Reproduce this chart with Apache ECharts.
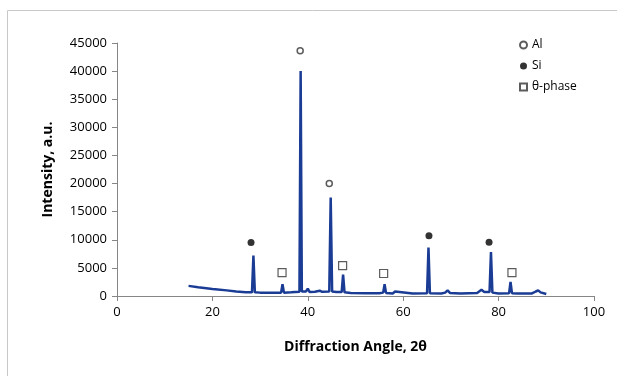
<!DOCTYPE html>
<html>
<head>
<meta charset="utf-8">
<script src="https://cdn.jsdelivr.net/npm/echarts@6/dist/echarts.min.js"></script>
<style>
  html, body { margin: 0; padding: 0; background: #fff; }
  #chart { width: 617px; height: 376px; }
</style>
</head>
<body>
<div id="chart"></div>
<script>
// XRD pattern
const twoTheta = [
  15, 17, 20, 20.6, 20.8, 21.0, 23, 25, 27, 28.3, 28.6, 28.9, 30, 33, 34.4, 34.7, 35.0, 36.5,
  38.25, 38.5, 38.75, 39.6, 40.0, 40.4, 41.5, 42.5, 43.0, 44.5, 44.8, 45.1, 46.0, 47.1, 47.4, 47.7,
  49, 52, 55, 55.8, 56.1, 56.4, 57.8, 58.3, 58.7, 62, 65.0, 65.3, 65.6, 68, 68.8, 69.3, 69.8,
  72, 75.5, 76.4, 77.0, 78.1, 78.4, 78.7, 80, 82.2, 82.5, 82.8, 84, 87, 87.8, 88.3, 88.8, 90
];
const intensity = [
  1800, 1550, 1250, 1200, 1450, 1150, 1000, 800, 650, 650, 7200, 650, 600, 580, 600, 2100, 600, 650,
  750, 40000, 800, 800, 1300, 700, 750, 950, 750, 800, 17500, 800, 700, 700, 3800, 650,
  550, 500, 500, 600, 2100, 550, 450, 800, 450, 450, 500, 8600, 500, 450, 600, 1000, 550,
  450, 550, 1100, 700, 700, 7800, 600, 450, 500, 2500, 500, 450, 450, 800, 1000, 650, 350
];

// phase markers [2θ, height]
const alMarks = [[38.4, 43600], [44.5, 20000]];
const siMarks = [[28.1, 9500], [65.4, 10700], [78.0, 9550]];
const thetaMarks = [[34.6, 4150], [47.3, 5400], [55.9, 4000], [82.8, 4150]];

const chart = echarts.init(document.getElementById('chart'));

const font = '"Open Sans", sans-serif';
const axisGrey = '#868686';

const option = {
  animation: false,
  textStyle: { fontFamily: font },
  grid: { left: 117, right: 23, top: 43, bottom: 80 },
  legend: {
    data: ['Al', 'Si', 'θ-phase'],
    orient: 'vertical',
    left: 514,
    top: 34,
    itemWidth: 7,
    itemHeight: 7,
    itemGap: 9,
    textStyle: { fontSize: 12, color: '#000', fontFamily: font }
  },
  xAxis: {
    type: 'value',
    min: 0,
    max: 100,
    interval: 20,
    name: 'Diffraction Angle, 2θ',
    nameLocation: 'middle',
    nameGap: 44,
    nameTextStyle: { fontSize: 14, fontWeight: 'bold', color: '#000' },
    axisLine: { lineStyle: { color: axisGrey } },
    axisTick: { show: true, inside: false, length: 5, lineStyle: { color: axisGrey } },
    axisLabel: { fontSize: 13, color: '#000', margin: 10 },
    splitLine: { show: false }
  },
  yAxis: {
    type: 'value',
    min: 0,
    max: 45000,
    interval: 5000,
    name: 'Intensity, a.u.',
    nameLocation: 'middle',
    nameGap: 62,
    nameTextStyle: { fontSize: 14, fontWeight: 'bold', color: '#000' },
    axisLine: { show: true, lineStyle: { color: axisGrey } },
    axisTick: { show: true, inside: false, length: 5, lineStyle: { color: axisGrey } },
    axisLabel: { fontSize: 13, color: '#000', margin: 10, formatter: v => String(v) },
    splitLine: { show: false }
  },
  graphic: [
    {
      type: 'rect',
      shape: { x: 7.5, y: 10.5, width: 700, height: 500 },
      style: { fill: 'none', stroke: '#c8c8c8', lineWidth: 1 },
      silent: true,
      z: -1
    }
  ],
  series: [
    {
      name: 'pattern',
      type: 'line',
      data: twoTheta.map((t, i) => [t, intensity[i]]),
      showSymbol: false,
      lineStyle: { color: '#1b3c94', width: 2.5 },
      z: 2
    },
    {
      name: 'Al',
      type: 'scatter',
      data: alMarks,
      symbol: 'circle',
      symbolSize: 6,
      itemStyle: { color: '#fff', borderColor: '#333', borderWidth: 1.5 },
      z: 3
    },
    {
      name: 'Si',
      type: 'scatter',
      data: siMarks,
      symbol: 'circle',
      symbolSize: 7,
      itemStyle: { color: '#000' },
      z: 3
    },
    {
      name: 'θ-phase',
      type: 'scatter',
      data: thetaMarks,
      symbol: 'rect',
      symbolSize: 8,
      itemStyle: { color: '#fff', borderColor: '#333', borderWidth: 1.2 },
      z: 3
    }
  ]
};

chart.setOption(option);
</script>
</body>
</html>
